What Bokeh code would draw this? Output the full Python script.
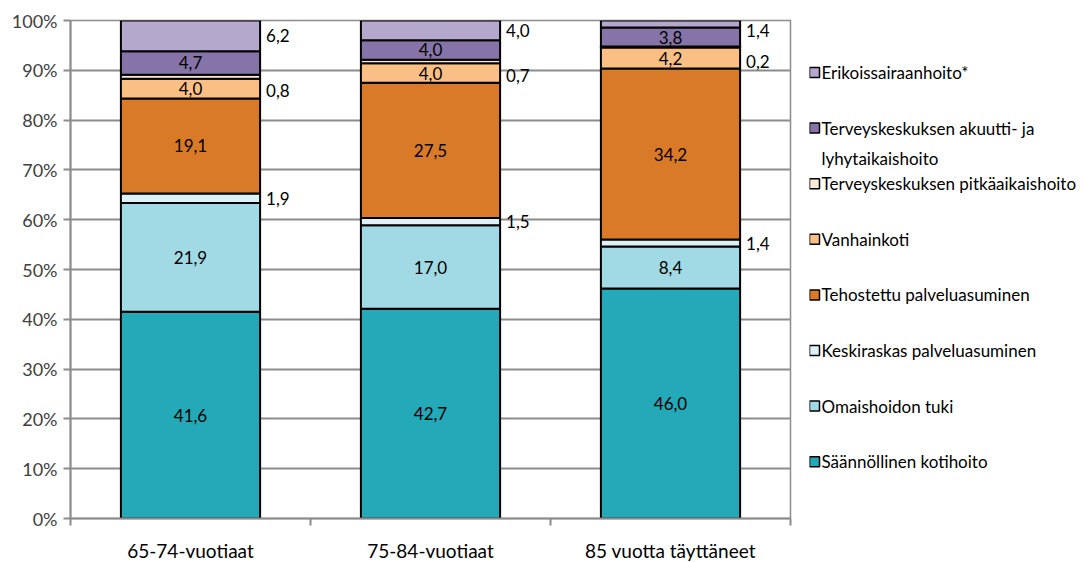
from bokeh.plotting import figure
from bokeh.layouts import row
from bokeh.models import Range1d, FixedTicker, ColumnDataSource
from bokeh.core.properties import value
from bokeh.embed import file_html
from bokeh.resources import INLINE

FONT = "Lato"

categories = ["65-74-vuotiaat", "75-84-vuotiaat", "85 vuotta täyttäneet"]
series = [
    "Säännöllinen kotihoito",
    "Omaishoidon tuki",
    "Keskiraskas palveluasuminen",
    "Tehostettu palveluasuminen",
    "Vanhainkoti",
    "Terveyskeskuksen pitkäaikaishoito",
    "Terveyskeskuksen akuutti- ja lyhytaikaishoito",
    "Erikoissairaanhoito*",
]
kotihoito = [41.6, 42.7, 46.0]
omaishoito = [21.9, 17.0, 8.4]
keskiraskas = [1.9, 1.5, 1.4]
tehostettu = [19.1, 27.5, 34.2]
vanhainkoti = [4.0, 4.0, 4.2]
tk_pitka = [0.8, 0.7, 0.2]
tk_akuutti = [4.7, 4.0, 3.8]
erikois = [6.2, 4.0, 1.4]
values = [kotihoito, omaishoito, keskiraskas, tehostettu, vanhainkoti, tk_pitka, tk_akuutti, erikois]
colors = ["#23A9B7", "#A1D9E4", "#DDF2F7", "#D97A28", "#FABF85", "#FDE9D9", "#8674A8", "#B4A9CC"]
outside = [False, False, True, False, False, True, False, True]
legend_labels = [
    ["Säännöllinen kotihoito"],
    ["Omaishoidon tuki"],
    ["Keskiraskas palveluasuminen"],
    ["Tehostettu palveluasuminen"],
    ["Vanhainkoti"],
    ["Terveyskeskuksen pitkäaikaishoito"],
    ["Terveyskeskuksen akuutti- ja", "lyhytaikaishoito"],
    ["Erikoissairaanhoito*"],
]
y_ticks = [0, 10, 20, 30, 40, 50, 60, 70, 80, 90, 100]

# 100 % stacking (shares of each category's total)
totals = [sum(v[i] for v in values) for i in range(len(categories))]
xs = [i + 0.5 for i in range(len(categories))]
data = {"x": xs}
keys = []
for k, v in enumerate(values):
    key = "s%d" % k
    keys.append(key)
    data[key] = [v[i] / totals[i] * 100 for i in range(len(categories))]
src = ColumnDataSource(data)

GRID = "#8C8C8C"
FRAME_TOP, FRAME_H = 20, 498
LEFT, FRAME_W, RIGHT = 70, 720, 19
p = figure(frame_width=FRAME_W, frame_height=FRAME_H, x_range=Range1d(0, 3), y_range=Range1d(0, 100),
           output_backend="svg", toolbar_location=None, tools="",
           min_border_left=LEFT, min_border_right=RIGHT, min_border_top=FRAME_TOP, min_border_bottom=10)
p.outline_line_color = GRID
p.outline_line_width = 1.5
p.background_fill_color = "white"

p.vbar_stack(keys, x="x", width=0.58, source=src, fill_color=colors,
             line_color="black", line_width=2)

# labels
for k, v in enumerate(values):
    lx, ly, lt = [], [], []
    for i in range(len(categories)):
        base = sum(data[keys[j]][i] for j in range(k))
        mid = base + data[keys[k]][i] / 2
        lx.append(xs[i] + (0.29 if outside[k] else 0))
        ly.append(min(mid, 98) if outside[k] else mid)
        lt.append(("%.1f" % v[i]).replace(".", ","))
    yoff = 14 if k == 5 else 0
    p.text(x=lx, y=ly, text=lt, text_font=value(FONT), text_font_size="17px",
           text_color="black", text_align="left" if outside[k] else "center",
           text_baseline="middle", x_offset=6 if outside[k] else 0, y_offset=yoff)

p.ygrid.ticker = FixedTicker(ticks=y_ticks)
p.ygrid.grid_line_color = GRID
p.ygrid.grid_line_width = 2
p.xgrid.grid_line_color = None

p.yaxis.ticker = FixedTicker(ticks=y_ticks)
p.yaxis.major_label_overrides = {t: "%d%%" % t for t in y_ticks}
p.yaxis.axis_line_color = GRID
p.yaxis.axis_line_width = 2
p.yaxis.major_tick_line_color = GRID
p.yaxis.major_tick_line_width = 2
p.yaxis.major_tick_out = 7
p.yaxis.major_tick_in = 0
p.yaxis.minor_tick_line_color = None
p.yaxis.major_label_text_font = FONT
p.yaxis.major_label_text_font_size = "18px"
p.yaxis.major_label_text_color = "#404040"
p.yaxis.major_label_standoff = 6

p.xaxis.ticker = FixedTicker(ticks=xs, minor_ticks=[0, 1, 2, 3])
p.xaxis.major_label_overrides = {x: c for x, c in zip(xs, categories)}
p.xaxis.axis_line_color = GRID
p.xaxis.axis_line_width = 2
p.xaxis.major_tick_line_color = None
p.xaxis.minor_tick_line_color = GRID
p.xaxis.minor_tick_line_width = 2
p.xaxis.minor_tick_out = 7
p.xaxis.minor_tick_in = 0
p.xaxis.major_label_text_font = FONT
p.xaxis.major_label_text_font_size = "19px"
p.xaxis.major_label_text_color = "black"
p.xaxis.major_label_standoff = 13

# legend panel (coordinates = page pixels)
LEG_X0 = LEFT + FRAME_W + RIGHT
LEG_W = 1076 - LEG_X0
leg = figure(frame_width=LEG_W, frame_height=FRAME_H,
             x_range=Range1d(LEG_X0, LEG_X0 + LEG_W),
             y_range=Range1d(FRAME_TOP + FRAME_H, FRAME_TOP),
             output_backend="svg", toolbar_location=None, tools="",
             x_axis_location=None, y_axis_location=None,
             min_border_left=0, min_border_right=0, min_border_top=FRAME_TOP, min_border_bottom=0)
leg.outline_line_color = None
leg.xgrid.grid_line_color = None
leg.ygrid.grid_line_color = None
order = list(range(len(series)))[::-1]
sq_x, sq_y, sq_c, tx, ty, tt = [], [], [], [], [], []
for n, k in enumerate(order):
    y0 = 72 + n * 55.6
    sq_x.append(LEG_X0 + 5)
    sq_y.append(y0)
    sq_c.append(colors[k])
    for m, line in enumerate(legend_labels[k]):
        tx.append(LEG_X0 + 12)
        ty.append(y0 + m * 30)
        tt.append(line)
leg.scatter(x=sq_x, y=sq_y, marker="square", size=10, fill_color=sq_c,
            line_color="black", line_width=1.5)
leg.text(x=tx, y=ty, text=tt, text_font=value(FONT), text_font_size="17px",
         text_color="black", text_align="left", text_baseline="middle")

layout = row(p, leg)
open("out.html", "w").write(file_html(layout, INLINE))
